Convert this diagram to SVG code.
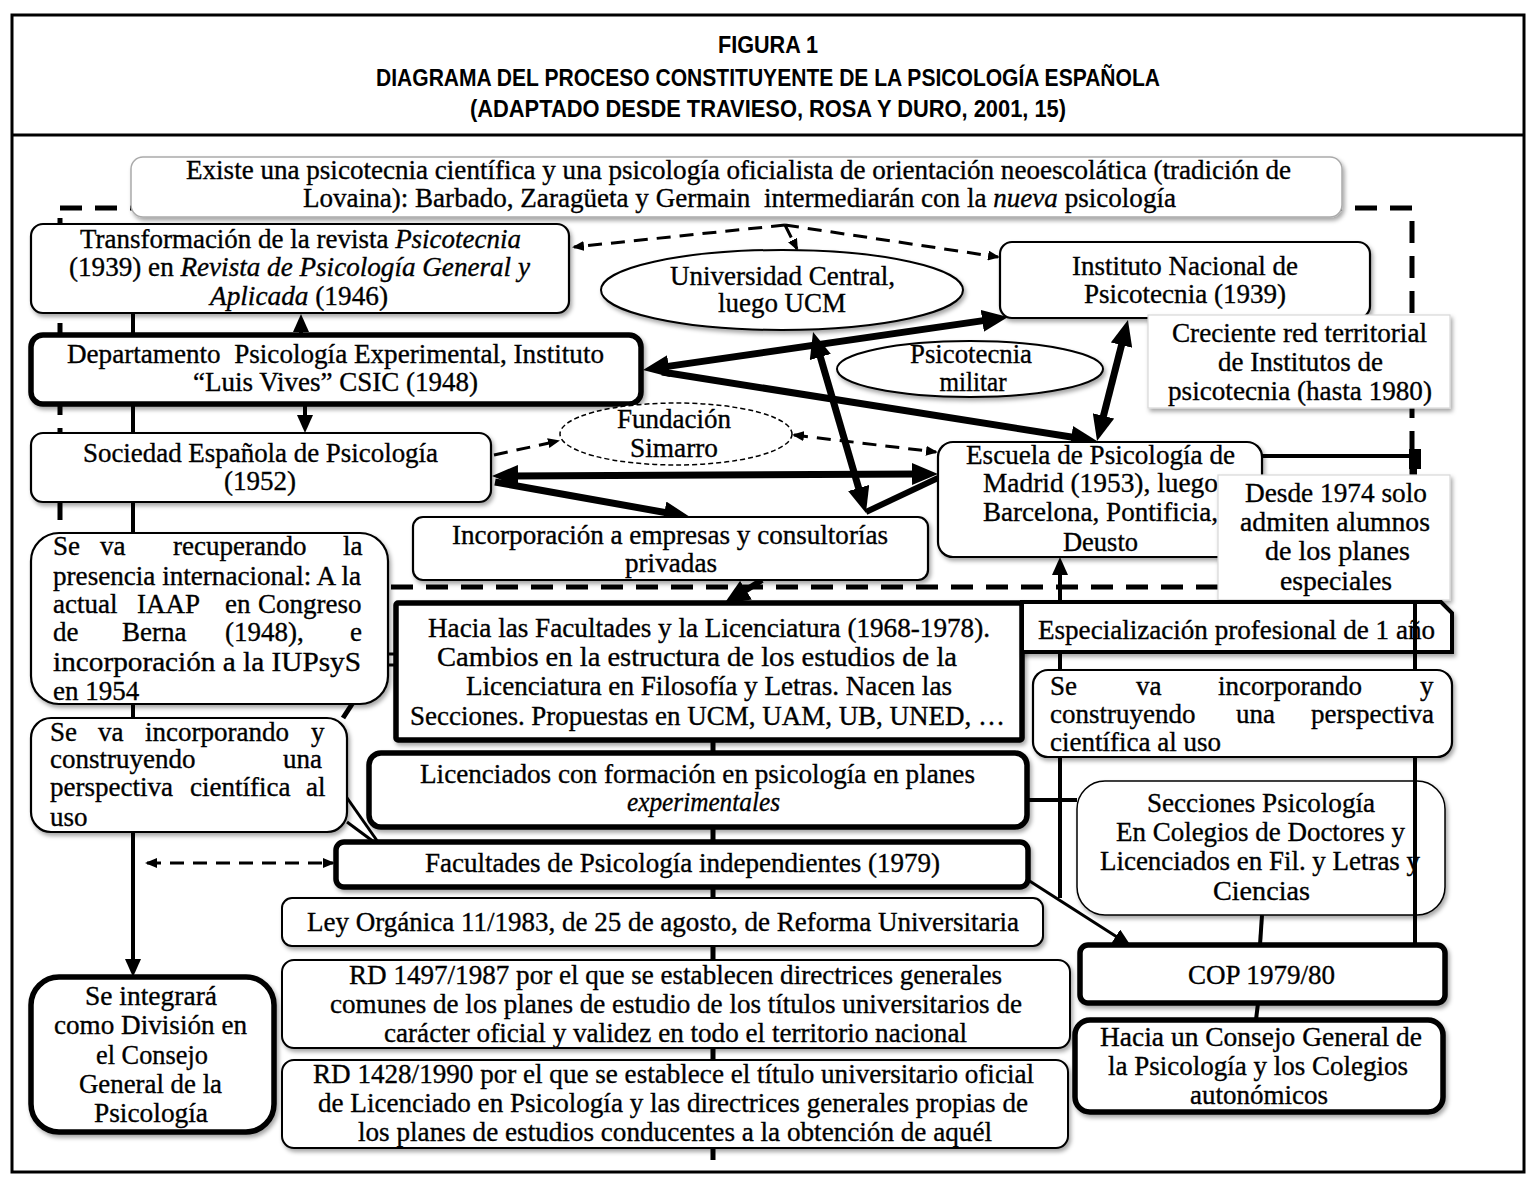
<svg xmlns="http://www.w3.org/2000/svg" width="1535" height="1179" viewBox="0 0 1535 1179">
<defs>
<filter id="sh" x="-5%" y="-10%" width="110%" height="130%"><feDropShadow dx="2" dy="3" stdDeviation="2" flood-color="#000" flood-opacity="0.35"/></filter>
<marker id="ah" markerUnits="userSpaceOnUse" viewBox="0 0 26 22" markerWidth="26" markerHeight="22" refX="8" refY="11" orient="auto-start-reverse"><path d="M0,0 L26,11 L0,22 z" fill="#000"/></marker>
<marker id="am" markerUnits="userSpaceOnUse" viewBox="0 0 18 16" markerWidth="18" markerHeight="16" refX="6" refY="8" orient="auto-start-reverse"><path d="M0,0 L18,8 L0,16 z" fill="#000"/></marker>
<marker id="as" markerUnits="userSpaceOnUse" viewBox="0 0 12 10" markerWidth="12" markerHeight="10" refX="10" refY="5" orient="auto-start-reverse"><path d="M0,0 L12,5 L0,10 z" fill="#000"/></marker>
<style>
.t{font-family:"Liberation Serif","Times New Roman",serif;font-size:27px;fill:#000;stroke:#000;stroke-width:0.35}
.m{text-anchor:middle}
.i{font-style:italic}
.ti{font-family:"Liberation Sans",Arial,sans-serif;font-weight:bold;font-size:23px;text-anchor:middle;fill:#000}
.b{fill:#fff;stroke:#000;filter:url(#sh)}
.thin{stroke-width:2.2}
.thick{stroke-width:5.5}
.ghost{fill:#fff;stroke:#d8d8d8;stroke-width:1.2;filter:url(#sh)}
.c{fill:none;stroke:#000}
.dash{fill:none;stroke:#000;stroke-width:3;stroke-dasharray:14 9}
</style>
</defs>
<rect width="1535" height="1179" fill="#fff"/>
<g id="frame">
<rect x="12" y="15" width="1512" height="1157" fill="none" stroke="#000" stroke-width="3"/>
<line x1="12" y1="135" x2="1524" y2="135" stroke="#000" stroke-width="3"/>
<text class="ti" x="768" y="53" textLength="100" lengthAdjust="spacingAndGlyphs">FIGURA 1</text>
<text class="ti" x="768" y="86" textLength="784" lengthAdjust="spacingAndGlyphs">DIAGRAMA DEL PROCESO CONSTITUYENTE DE LA PSICOLOGÍA ESPAÑOLA</text>
<text class="ti" x="768" y="117" textLength="596" lengthAdjust="spacingAndGlyphs">(ADAPTADO DESDE TRAVIESO, ROSA Y DURO, 2001, 15)</text>
</g>
<g id="dashed-boundary">
<rect x="60" y="208" width="1352" height="379" fill="none" stroke="#000" stroke-width="5" stroke-dasharray="22 13"/>
</g>
<g id="connectors">
<line class="c" x1="133" y1="313" x2="133" y2="965" stroke-width="4" marker-end="url(#am)"/>
<line class="c" x1="301" y1="335" x2="301" y2="326" stroke-width="4" marker-end="url(#am)"/>
<line class="c" x1="305" y1="404" x2="305" y2="421" stroke-width="4" marker-end="url(#am)"/>
<line class="c" x1="660.8" y1="367.4" x2="990.2" y2="319.6" stroke-width="7" marker-start="url(#ah)" marker-end="url(#ah)"/>
<line class="c" x1="662" y1="372" x2="1079.2" y2="438.2" stroke-width="7" marker-end="url(#ah)"/>
<line class="c" x1="1123.5" y1="337.4" x2="1101.5" y2="423.6" stroke-width="7" marker-start="url(#ah)" marker-end="url(#ah)"/>
<line class="c" x1="818.1" y1="349.3" x2="860.9" y2="495.7" stroke-width="7" marker-start="url(#ah)" marker-end="url(#ah)"/>
<line class="c" x1="866" y1="512" x2="938" y2="478" stroke-width="6"/>
<line class="c" x1="510" y1="476" x2="920" y2="474" stroke-width="7" marker-start="url(#ah)" marker-end="url(#ah)"/>
<line class="c" x1="495" y1="482" x2="672.3" y2="513.8" stroke-width="7" marker-end="url(#ah)"/>
<line class="c" x1="762" y1="580" x2="739.2" y2="594.4" stroke-width="6" marker-end="url(#ah)"/>
<line class="c" x1="1060" y1="898" x2="1060" y2="569" stroke-width="4" marker-end="url(#am)"/>
<line class="c" x1="1028" y1="880" x2="1120.9" y2="939.5" stroke-width="3" marker-end="url(#am)"/>
<line class="c" x1="713" y1="740" x2="713" y2="1160" stroke-width="5"/>
<line class="c" x1="1027" y1="800" x2="1077" y2="800" stroke-width="4"/>
<line class="c" x1="1262" y1="915" x2="1260" y2="945" stroke-width="4"/>
<line class="c" x1="1258" y1="1003" x2="1256" y2="1020" stroke-width="4"/>
<line class="c" x1="1262" y1="456" x2="1415" y2="456" stroke-width="4"/>
<line class="c" x1="1415" y1="449" x2="1415" y2="945" stroke-width="4"/>
<rect x="1409" y="449" width="12" height="20" fill="#000"/>
<line class="c" x1="343" y1="718" x2="356" y2="698" stroke-width="5"/>
<line class="c" x1="345" y1="795" x2="378" y2="842" stroke-width="3"/>
<line class="c" x1="347" y1="822" x2="374" y2="842" stroke-width="3"/>
<rect x="386" y="654" width="11" height="11" fill="#fff" stroke="#000" stroke-width="3"/>
<path class="dash" d="M785,225 L574,247" marker-end="url(#as)"/>
<path class="dash" d="M785,225 L998,257" marker-end="url(#as)"/>
<path class="dash" d="M785,225 L797,249" marker-end="url(#as)"/>
<path class="dash" d="M494,455 L558,441" marker-end="url(#as)"/>
<path class="dash" d="M794,435 L936,452" marker-start="url(#as)" marker-end="url(#as)"/>
<path class="dash" d="M147,863 L333,863" marker-start="url(#as)" marker-end="url(#as)"/>
</g>
<g id="nodes">
<g id="n-existe">
<rect x="131" y="157" width="1211" height="60" rx="12" fill="#fff" stroke="#aaa" stroke-width="1.5" filter="url(#sh)"/>
<text class="t m" x="738.5" y="179" textLength="1105" lengthAdjust="spacingAndGlyphs">Existe una psicotecnia científica y una psicología oficialista de orientación neoescolática (tradición de</text>
<text class="t m" x="739.5" y="207" textLength="873" lengthAdjust="spacingAndGlyphs" style="white-space:pre">Lovaina): Barbado, Zaragüeta y Germain  intermediarán con la <tspan class="i">nueva</tspan> psicología</text>
</g>
<g id="n-transformacion">
<rect class="b thin" x="31" y="224" width="538" height="89" rx="12"/>
<text class="t m" x="300.5" y="248" textLength="441" lengthAdjust="spacingAndGlyphs">Transformación de la revista <tspan class="i">Psicotecnia</tspan></text>
<text class="t m" x="299.5" y="276" textLength="461" lengthAdjust="spacingAndGlyphs">(1939) en <tspan class="i">Revista de Psicología General y</tspan></text>
<text class="t m" x="299" y="305" textLength="178" lengthAdjust="spacingAndGlyphs"><tspan class="i">Aplicada</tspan> (1946)</text>
</g>
<g id="n-departamento">
<rect class="b thick" x="31" y="335" width="610" height="69" rx="12"/>
<text class="t m" x="335.5" y="363" textLength="537" lengthAdjust="spacingAndGlyphs" style="white-space:pre">Departamento  Psicología Experimental, Instituto</text>
<text class="t m" x="335.5" y="391" textLength="285" lengthAdjust="spacingAndGlyphs">“Luis Vives” CSIC (1948)</text>
</g>
<g id="n-sociedad">
<rect class="b thin" x="31" y="433" width="460" height="69" rx="12"/>
<text class="t m" x="260.5" y="462" textLength="355" lengthAdjust="spacingAndGlyphs">Sociedad Española de Psicología</text>
<text class="t m" x="260" y="490" textLength="72" lengthAdjust="spacingAndGlyphs">(1952)</text>
</g>
<g id="n-universidad">
<ellipse cx="782" cy="290" rx="181" ry="40" fill="#fff" stroke="#000" stroke-width="2" filter="url(#sh)"/>
<text class="t m" x="782.5" y="285" textLength="225" lengthAdjust="spacingAndGlyphs">Universidad Central,</text>
<text class="t m" x="782" y="312" textLength="128" lengthAdjust="spacingAndGlyphs">luego UCM</text>
</g>
<g id="n-instituto">
<rect class="b thin" x="1000" y="242" width="370" height="76" rx="12"/>
<text class="t m" x="1185" y="275" textLength="226" lengthAdjust="spacingAndGlyphs">Instituto Nacional de</text>
<text class="t m" x="1185" y="303" textLength="202" lengthAdjust="spacingAndGlyphs">Psicotecnia (1939)</text>
</g>
<g id="n-militar">
<ellipse cx="970" cy="369" rx="133" ry="28" fill="#fff" stroke="#000" stroke-width="2" filter="url(#sh)"/>
<text class="t m" x="971" y="363" textLength="122" lengthAdjust="spacingAndGlyphs">Psicotecnia</text>
<text class="t m" x="973" y="391" textLength="67" lengthAdjust="spacingAndGlyphs">militar</text>
</g>
<g id="n-creciente">
<rect class="ghost" x="1148" y="315" width="302" height="93"/>
<text class="t m" x="1299.5" y="342" textLength="255" lengthAdjust="spacingAndGlyphs">Creciente red territorial</text>
<text class="t m" x="1300.5" y="371" textLength="165" lengthAdjust="spacingAndGlyphs">de Institutos de</text>
<text class="t m" x="1300" y="400" textLength="264" lengthAdjust="spacingAndGlyphs">psicotecnia (hasta 1980)</text>
</g>
<g id="n-simarro">
<ellipse cx="676" cy="434" rx="116" ry="31" fill="#fff" stroke="#000" stroke-width="1.5" stroke-dasharray="5 3"/>
<text class="t m" x="674" y="428" textLength="114" lengthAdjust="spacingAndGlyphs">Fundación</text>
<text class="t m" x="674" y="457" textLength="88" lengthAdjust="spacingAndGlyphs">Simarro</text>
</g>
<g id="n-escuela">
<rect class="b thin" x="938" y="442" width="324" height="115" rx="15"/>
<text class="t m" x="1100.5" y="464" textLength="269" lengthAdjust="spacingAndGlyphs">Escuela de Psicología de</text>
<text class="t m" x="1100.5" y="492" textLength="235" lengthAdjust="spacingAndGlyphs">Madrid (1953), luego</text>
<text class="t m" x="1100.5" y="521" textLength="235" lengthAdjust="spacingAndGlyphs">Barcelona, Pontificia,</text>
<text class="t m" x="1100.5" y="551" textLength="75" lengthAdjust="spacingAndGlyphs">Deusto</text>
</g>
<g id="n-desde1974">
<rect class="ghost" x="1218" y="475" width="232" height="125"/>
<text class="t m" x="1336" y="502" textLength="182" lengthAdjust="spacingAndGlyphs">Desde 1974 solo</text>
<text class="t m" x="1335" y="531" textLength="190" lengthAdjust="spacingAndGlyphs">admiten alumnos</text>
<text class="t m" x="1337.5" y="560" textLength="145" lengthAdjust="spacingAndGlyphs">de los planes</text>
<text class="t m" x="1336" y="590" textLength="112" lengthAdjust="spacingAndGlyphs">especiales</text>
</g>
<g id="n-empresas">
<rect class="b thin" x="413" y="517" width="515" height="63" rx="10"/>
<text class="t m" x="670" y="544" textLength="436" lengthAdjust="spacingAndGlyphs">Incorporación a empresas y consultorías</text>
<text class="t m" x="671" y="572" textLength="92" lengthAdjust="spacingAndGlyphs">privadas</text>
</g>
<g id="n-internacional">
<rect class="b thin" x="31" y="533" width="357" height="171" rx="28"/>
<text class="t" y="555"><tspan x="53">Se</tspan><tspan x="100">va</tspan><tspan x="173">recuperando</tspan><tspan x="343">la</tspan></text>
<text class="t" x="53" y="585" textLength="308" lengthAdjust="spacingAndGlyphs">presencia internacional: A la</text>
<text class="t" y="613"><tspan x="53">actual</tspan><tspan x="137">IAAP</tspan><tspan x="225">en</tspan><tspan x="258">Congreso</tspan></text>
<text class="t" y="641"><tspan x="53">de</tspan><tspan x="122">Berna</tspan><tspan x="225">(1948),</tspan><tspan x="350">e</tspan></text>
<text class="t" x="53" y="671" textLength="308" lengthAdjust="spacingAndGlyphs">incorporación a la IUPsyS</text>
<text class="t" x="53" y="700">en 1954</text>
</g>
<g id="n-perspectiva-izq">
<rect class="b thin" x="31" y="718" width="316" height="114" rx="20"/>
<text class="t" y="741"><tspan x="50">Se</tspan><tspan x="98">va</tspan><tspan x="145">incorporando</tspan><tspan x="311">y</tspan></text>
<text class="t" y="768"><tspan x="50">construyendo</tspan><tspan x="283">una</tspan></text>
<text class="t" y="796"><tspan x="50">perspectiva</tspan><tspan x="190">científica</tspan><tspan x="306">al</tspan></text>
<text class="t" x="50" y="826">uso</text>
</g>
<g id="n-facultades-lic">
<rect class="b thick" x="396" y="603" width="626" height="137" rx="2"/>
<text class="t m" x="709" y="637" textLength="562" lengthAdjust="spacingAndGlyphs">Hacia las Facultades y la Licenciatura (1968-1978).</text>
<text class="t m" x="697" y="666" textLength="520" lengthAdjust="spacingAndGlyphs">Cambios en la estructura de los estudios de la</text>
<text class="t m" x="709" y="695" textLength="486" lengthAdjust="spacingAndGlyphs">Licenciatura en Filosofía y Letras. Nacen las</text>
<text class="t m" x="707.5" y="725" textLength="595" lengthAdjust="spacingAndGlyphs">Secciones. Propuestas en UCM, UAM, UB, UNED, …</text>
</g>
<g id="n-especializacion">
<path d="M1022,602 H1441 L1452,613 V652 H1022 Z" fill="#fff" stroke="#000" stroke-width="4" filter="url(#sh)"/>
<text class="t" x="1038" y="639" textLength="397" lengthAdjust="spacingAndGlyphs">Especialización profesional de 1 año</text>
</g>
<g id="n-perspectiva-der">
<rect class="b thin" x="1033" y="670" width="419" height="87" rx="15"/>
<text class="t" y="695"><tspan x="1050">Se</tspan><tspan x="1136">va</tspan><tspan x="1218">incorporando</tspan><tspan x="1420">y</tspan></text>
<text class="t" y="723"><tspan x="1050">construyendo</tspan><tspan x="1236">una</tspan><tspan x="1311">perspectiva</tspan></text>
<text class="t" x="1050" y="751">científica al uso</text>
</g>
<g id="n-licenciados">
<rect class="b thick" x="369" y="753" width="658" height="74" rx="12"/>
<text class="t m" x="697.5" y="783" textLength="555" lengthAdjust="spacingAndGlyphs">Licenciados con formación en psicología en planes</text>
<text class="t m i" x="703.5" y="811" textLength="153" lengthAdjust="spacingAndGlyphs">experimentales</text>
</g>
<g id="n-facultades-indep">
<rect class="b thick" x="336" y="842" width="692" height="45" rx="8"/>
<text class="t m" x="682.5" y="872" textLength="515" lengthAdjust="spacingAndGlyphs">Facultades de Psicología independientes (1979)</text>
</g>
<g id="n-secciones">
<rect class="b" x="1077" y="781" width="368" height="134" rx="28" stroke-width="1.5"/>
<text class="t m" x="1261" y="812" textLength="228" lengthAdjust="spacingAndGlyphs">Secciones Psicología</text>
<text class="t m" x="1260.5" y="841" textLength="289" lengthAdjust="spacingAndGlyphs">En Colegios de Doctores y</text>
<text class="t m" x="1260" y="870" textLength="320" lengthAdjust="spacingAndGlyphs">Licenciados en Fil. y Letras y</text>
<text class="t m" x="1261.5" y="900" textLength="97" lengthAdjust="spacingAndGlyphs">Ciencias</text>
</g>
<g id="n-ley1983">
<rect class="b" x="282" y="898" width="761" height="48" rx="10" stroke-width="2"/>
<text class="t m" x="663" y="931" textLength="712" lengthAdjust="spacingAndGlyphs">Ley Orgánica 11/1983, de 25 de agosto, de Reforma Universitaria</text>
</g>
<g id="n-rd1987">
<rect class="b" x="282" y="960" width="788" height="88" rx="12" stroke-width="2"/>
<text class="t m" x="675.5" y="984" textLength="653" lengthAdjust="spacingAndGlyphs">RD 1497/1987 por el que se establecen directrices generales</text>
<text class="t m" x="676" y="1013" textLength="692" lengthAdjust="spacingAndGlyphs">comunes de los planes de estudio de los títulos universitarios de</text>
<text class="t m" x="675.5" y="1042" textLength="583" lengthAdjust="spacingAndGlyphs">carácter oficial y validez en todo el territorio nacional</text>
</g>
<g id="n-rd1990">
<rect class="b" x="282" y="1060" width="786" height="88" rx="12" stroke-width="2"/>
<text class="t m" x="673.5" y="1083" textLength="721" lengthAdjust="spacingAndGlyphs">RD 1428/1990 por el que se establece el título universitario oficial</text>
<text class="t m" x="673" y="1112" textLength="710" lengthAdjust="spacingAndGlyphs">de Licenciado en Psicología y las directrices generales propias de</text>
<text class="t m" x="675" y="1141" textLength="634" lengthAdjust="spacingAndGlyphs">los planes de estudios conducentes a la obtención de aquél</text>
</g>
<g id="n-division">
<rect class="b thick" x="31" y="977" width="243" height="155" rx="28"/>
<text class="t m" x="151" y="1005" textLength="132" lengthAdjust="spacingAndGlyphs">Se integrará</text>
<text class="t m" x="150.5" y="1034" textLength="193" lengthAdjust="spacingAndGlyphs">como División en</text>
<text class="t m" x="152" y="1064" textLength="112" lengthAdjust="spacingAndGlyphs">el Consejo</text>
<text class="t m" x="150.5" y="1093" textLength="143" lengthAdjust="spacingAndGlyphs">General de la</text>
<text class="t m" x="151" y="1122" textLength="114" lengthAdjust="spacingAndGlyphs">Psicología</text>
</g>
<g id="n-cop">
<rect class="b thick" x="1080" y="945" width="365" height="58" rx="8"/>
<text class="t m" x="1261.5" y="984" textLength="147" lengthAdjust="spacingAndGlyphs">COP 1979/80</text>
</g>
<g id="n-consejo">
<rect class="b thick" x="1075" y="1020" width="368" height="92" rx="15"/>
<text class="t m" x="1261" y="1046" textLength="322" lengthAdjust="spacingAndGlyphs">Hacia un Consejo General de</text>
<text class="t m" x="1258" y="1075" textLength="300" lengthAdjust="spacingAndGlyphs">la Psicología y los Colegios</text>
<text class="t m" x="1259" y="1104" textLength="138" lengthAdjust="spacingAndGlyphs">autonómicos</text>
</g>
</g>
<g id="connectors-over">
<line class="c" x1="1415" y1="600" x2="1415" y2="654" stroke-width="4"/>
<line class="c" x1="1415" y1="779" x2="1415" y2="917" stroke-width="4"/>
</g>
</svg>
